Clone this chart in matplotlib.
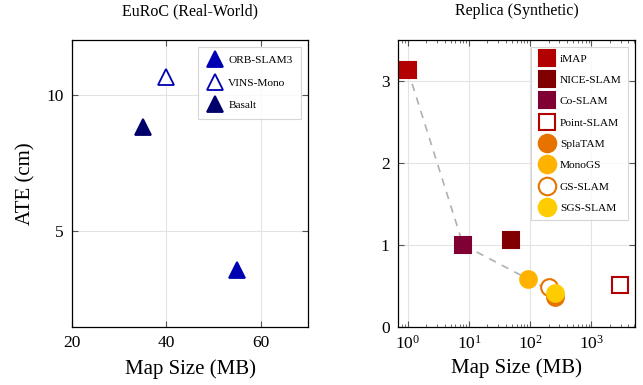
import numpy as np
import matplotlib
matplotlib.use('Agg')
import matplotlib.pyplot as plt
from matplotlib.ticker import LogLocator, NullFormatter

plt.rcParams['font.family'] = ['Liberation Serif', 'DejaVu Serif']
plt.rcParams['mathtext.fontset'] = 'stix'

# EuRoC (real-world)
euroc_names = ['ORB-SLAM3', 'VINS-Mono', 'Basalt']
euroc_size = [55, 40, 35]
euroc_ate = [3.6, 10.65, 8.82]
euroc_colors = ['#0000b3', '#0000b3', '#00006b']
euroc_filled = [True, False, True]

# Replica (synthetic)
rep_names = ['iMAP', 'NICE-SLAM', 'Co-SLAM', 'Point-SLAM', 'SplaTAM', 'MonoGS', 'GS-SLAM', 'SGS-SLAM']
rep_size = [1.0, 48, 8, 2900, 255, 92, 205, 257]
rep_ate = [3.13, 1.06, 1.0, 0.51, 0.36, 0.58, 0.49, 0.41]
rep_colors = ['#b30000', '#800000', '#800033', '#b30000', '#e67300', '#ffb300', '#e67300', '#ffcc00']
rep_filled = [True, True, True, False, True, True, False, True]
rep_markers = ['s', 's', 's', 's', 'o', 'o', 'o', 'o']
# points on the dashed front line
front = ['iMAP', 'Co-SLAM', 'SGS-SLAM']

fig = plt.figure(figsize=(6.43, 3.85), dpi=100)
ax1 = fig.add_axes([0.112, 0.151, 0.367, 0.745])
ax2 = fig.add_axes([0.619, 0.151, 0.369, 0.745])

def style(ax):
    ax.grid(True, color='#e3e3e3', lw=0.8, which='major')
    ax.set_axisbelow(True)
    ax.tick_params(direction='in', top=True, right=True, labelsize=12.5, length=4,
                   width=0.8, color='#555555', pad=6)
    ax.tick_params(which='minor', direction='in', top=True, right=True, length=2.5,
                   width=0.6, color='#555555')
    for s in ax.spines.values():
        s.set_linewidth(0.9)

for n, x, y, c, f in zip(euroc_names, euroc_size, euroc_ate, euroc_colors, euroc_filled):
    ax1.plot(x, y, '^', ms=11, mfc=c if f else 'white', mec=c, mew=1.3, ls='none', label=n)
ax1.set_xlim(20, 70)
ax1.set_ylim(1.5, 12)
ax1.set_xticks([20, 40, 60])
ax1.set_yticks([5, 10])
ax1.set_xlabel('Map Size (MB)', fontsize=15, labelpad=6)
ax1.set_ylabel('ATE (cm)', fontsize=15, labelpad=8)
ax1.set_title('EuRoC (Real-World)', fontsize=11.5, pad=18)
style(ax1)
leg = ax1.legend(loc='upper right', fontsize=8.2, fancybox=False, edgecolor='#cccccc',
                 borderaxespad=0.6, handletextpad=0.4, handlelength=1.5, labelspacing=1.1,
                 borderpad=0.75, markerscale=1.05)
leg.get_frame().set_linewidth(0.8)

idx = [rep_names.index(n) for n in front]
ax2.plot([rep_size[i] for i in idx], [rep_ate[i] for i in idx], '--', color='#b0b0b0',
         lw=1.2, dashes=(4.5, 4), zorder=1)
for n, x, y, c, f, m in zip(rep_names, rep_size, rep_ate, rep_colors, rep_filled, rep_markers):
    ax2.plot(x, y, m, ms=11.5 if m == 's' else 12, mfc=c if f else 'white', mec=c,
             mew=1.5, ls='none', label=n, zorder=3)
ax2.set_xscale('log')
ax2.set_xlim(0.69, 5200)
ax2.set_ylim(0, 3.5)
ax2.set_yticks([0, 1, 2, 3])
ax2.xaxis.set_major_locator(LogLocator(base=10, numticks=10))
ax2.xaxis.set_minor_locator(LogLocator(base=10, subs=np.arange(2, 10), numticks=20))
ax2.xaxis.set_minor_formatter(NullFormatter())
ax2.set_xlabel('Map Size (MB)', fontsize=15, labelpad=4)
ax2.set_title('Replica (Synthetic)', fontsize=11.5, pad=18)
style(ax2)
leg = ax2.legend(loc='upper right', fontsize=8.2, fancybox=False, edgecolor='#cccccc',
                 borderaxespad=0.6, handletextpad=0.4, handlelength=1.5, labelspacing=1.0,
                 borderpad=0.6, markerscale=1.05)
leg.get_frame().set_linewidth(0.8)

fig.savefig('out.png', dpi=100)
